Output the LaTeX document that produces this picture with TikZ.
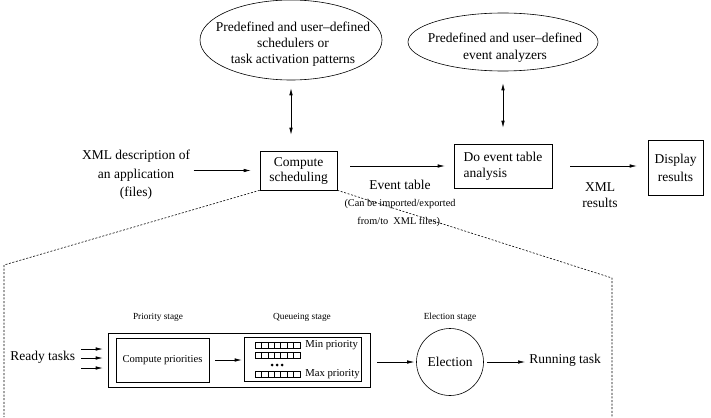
\documentclass[tikz,border=0pt]{standalone}
\usepackage{fontspec}
\setmainfont{Liberation Serif}
\usetikzlibrary{arrows.meta,shapes.geometric}
\tikzset{
  big/.style={font=\fontsize{13.5pt}{16pt}\selectfont},
  small/.style={font=\fontsize{10.3pt}{18pt}\selectfont},
  tiny/.style={font=\fontsize{9.3pt}{11pt}\selectfont},
  box/.style={draw, rectangle, inner sep=0pt, align=center},
  arr/.style={-{Latex[length=7pt,width=3.5pt]}},
  dbl/.style={{Latex[length=7pt,width=3.5pt]}-{Latex[length=7pt,width=3.5pt]}},
  dsh/.style={dash pattern=on 2pt off 1.6pt},
  every path/.style={line width=0.6pt},
}
\begin{document}
\begin{tikzpicture}[x=1pt,y=-1pt]
\useasboundingbox (0,0) rectangle (711,417);
% top ellipses
\node[draw, ellipse, minimum width=182pt, minimum height=80pt, inner sep=0pt] (e1) at (291,40) {};
\node[big, align=center] (e1t) at (293,44) {Predefined and user--defined\\schedulers or\\task activation patterns};
\node[draw, ellipse, minimum width=190pt, minimum height=58pt, inner sep=0pt] (e2) at (503,42) {};
\node[big, align=center, font=\fontsize{13.5pt}{17pt}\selectfont] (e2t) at (505,48) {Predefined and user--defined\\event analyzers};
% main row
\node[big, align=center, font=\fontsize{13.5pt}{18.5pt}\selectfont] (xml) at (136,175) {XML description of\\an application\\(files)};
\node[box, big, minimum width=77pt, minimum height=39pt, font=\fontsize{13.5pt}{15pt}\selectfont] (cs) at (298.5,170.5) {Compute\\scheduling};
\node[box, big, align=left, minimum width=98pt, minimum height=44pt] (et) at (503,166) {Do event table\\analysis};
\node[box, big, minimum width=55pt, minimum height=55pt, font=\fontsize{13.5pt}{18pt}\selectfont] (dr) at (675.5,167.5) {Display\\results};
\draw[dbl] ([yshift=-8pt]e1.south) -- ([yshift=16pt]e1.south |- cs.north);
\draw[dbl] ([yshift=-12pt]e2.south) -- ([yshift=16pt]e2.south |- et.north);
\draw[arr, shorten >=9pt] (xml.east |- cs.west) -- (cs.west);
\draw[arr, shorten <=13pt, shorten >=9pt] (cs.east |- et.west) -- (et.west);
\draw[arr, shorten <=18pt, shorten >=11pt] (et.east) -- (et.east -| dr.west);
\node[big] (evt) at (400,185) {Event table};
\node[small, align=center] (imp) at (400,213) {(Can be imported/exported\\from/to\ \ XML files).};
\node[big, align=center] (xr) at (600,195) {XML\\results};
% zoom dashed lines
\coordinate (dl) at (4,265);
\coordinate (dlb) at (4,417);
\coordinate (dr1) at (612,278);
\coordinate (drb) at (612,417);
\draw[dsh] (cs.south west) -- (dl) -- (dlb);
\draw[dsh] (cs.south east) -- (dr1) -- (drb);
% bottom
\node[tiny] (ps) at (158,317) {Priority stage};
\node[tiny] (qs) at (302,317) {Queueing stage};
\node[tiny] (es) at (450,317) {Election stage};
\node[box, minimum width=262pt, minimum height=54pt] (outer) at (239,360) {};
\node[box, minimum width=93pt, minimum height=44pt, font=\fontsize{10.6pt}{12pt}\selectfont] (cp) at (162.5,360) {Compute priorities};
\node[box, minimum width=117pt, minimum height=44pt] (q) at (302.5,359.5) {};
\draw[arr, shorten <=6pt, shorten >=2pt] (cp.east) -- (cp.east -| q.west);
\foreach \yy in {342,352,371}{
  \foreach \i in {0,...,6}{
    \draw[line width=0.5pt] (255+\i*6.43,\yy) rectangle ++(6.43,6);
  }
}
\foreach \xx in {272,277,282}{\fill (\xx,365) circle (1.5);}
\node[anchor=west, inner sep=0pt, font=\fontsize{10.7pt}{12pt}\selectfont] (minp) at (305,345) {Min priority};
\node[anchor=west, inner sep=0pt, font=\fontsize{10.7pt}{12pt}\selectfont] (maxp) at (305,374.5) {Max priority};
\node[draw, circle, minimum size=67pt, inner sep=0pt, big] (el) at (450,362) {Election};
\draw[arr, shorten <=7pt, shorten >=2pt] (outer.east |- el.west) -- (el.west);
\node[big, anchor=west, inner sep=3pt] (run) at (526,360) {Running task};
\draw[arr, shorten <=3pt, shorten >=1pt] (el.east) -- (el.east -| run.west);
\node[big, anchor=west, inner sep=3pt] (rt) at (7,357) {Ready tasks};
\foreach \dy in {8,-1,-11}{
  \draw[arr, shorten <=3pt, shorten >=5pt] ([yshift=\dy pt]rt.east) -- ([yshift=\dy pt]rt.east -| outer.west);
}
\end{tikzpicture}
\end{document}
